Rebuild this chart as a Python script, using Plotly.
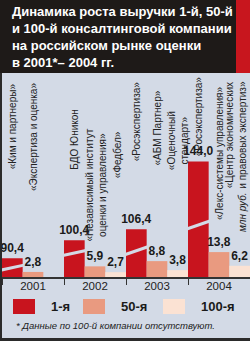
import plotly.graph_objects as go

# ---- data ----
years = [2001, 2002, 2003, 2004]
year_labels = ["2001", "2002", "2003", "2004"]
series_names = ["1-я", "50-я", "100-я"]
first_vals = [90.4, 100.4, 106.4, 144.0]
fiftieth_vals = [2.8, 5.9, 8.8, 13.8]
hundredth_vals = [None, 2.7, 3.8, 6.2]
first_names = ["«Ким и партнеры»", "БДО Юникон", "«Росэкспертиза»", "«Росэкспертиза»"]
fiftieth_names = ["«Экспертиза и оценка»", "«Независимый институт<br>оценки и управления»",
                  "«АБМ Партнер»", "«Лекс-системы управления»"]
hundredth_names = [None, "«Федбел»", "«Оценочный<br>стандарт»",
                   "«Центр экономических<br>и правовых экспертиз»"]
title_text = ("Динамика роста выручки 1-й, 50-й<br>и 100-й консалтинговой компании<br>"
              "на российском рынке оценки<br>в 2001*– 2004 гг.")
unit_text = "млн руб."
footnote = "* Данные по 100-й компании отсутствуют."

# ---- style ----
W, H = 250, 341
BG = "#d3dae6"
DARK = "#1e1a18"
RED = "#c8141e"
SALMON = "#e99a80"
PEACH = "#fbe2d3"
colors = [RED, SALMON, PEACH]
FONT = "Liberation Sans, Arial"

band_bottom = 73      # px from top
axis_y = 277          # px from top
left_px = 2
ydom = [(H - axis_y) / H, (H - band_bottom) / H]
xdom = [left_px / W, 1]
plot_h = axis_y - band_bottom

scale = 1.805         # px per unit
break_cut = 80.0      # hidden (broken-off) part of the 1-я bars

def py(px_from_top):
    return (H - px_from_top) / H

def fmt(v):
    return "" if v is None else f"{v:.1f}".replace(".", ",")

fig = go.Figure()
width = 1 / 3
offsets = [-0.5, -0.5 + width, -0.5 + 2 * width]
all_vals = [first_vals, fiftieth_vals, hundredth_vals]
for k, (name, vals) in enumerate(zip(series_names, all_vals)):
    fig.add_trace(go.Bar(
        x=years, y=vals, name=name,
        base=[-break_cut] * len(vals) if k == 0 else None,
        marker=dict(color=colors[k], line=dict(width=0)),
        width=width, offset=offsets[k],
        text=[fmt(v) for v in vals], texttemplate="%{text}", textposition="outside",
        constraintext="none", cliponaxis=True,
        textfont=dict(family=FONT, size=12, color="#1a1a1a", weight="bold"),
        hoverinfo="skip", showlegend=False,
    ))

shapes = [
    dict(type="rect", xref="paper", yref="paper", x0=0, x1=236 / W, y0=py(band_bottom), y1=1,
         fillcolor=DARK, line=dict(width=0), layer="below"),
    dict(type="rect", xref="paper", yref="paper", x0=236 / W, x1=1, y0=py(band_bottom), y1=1,
         fillcolor="#c8161e", line=dict(width=0), layer="below"),
    dict(type="rect", xref="paper", yref="paper", x0=0, x1=left_px / W, y0=0, y1=py(band_bottom),
         fillcolor="#2b2b2b", line=dict(width=0), layer="above"),
    dict(type="rect", xref="paper", yref="paper", x0=0, x1=1, y0=0, y1=3 / H,
         fillcolor="#2b2b2b", line=dict(width=0), layer="above"),
]
# break slashes across the truncated 1-я bars
slash_frac = [0.5, 0.65, 0.55, 0.45]
slash_rise = [2.5, 2.5, 4.0, 4.0]
for yr, v, fr, rise in zip(years, first_vals, slash_frac, slash_rise):
    mid_px = axis_y - (v - break_cut) * fr * scale
    shapes.append(dict(type="line", xref="x", yref="paper",
                       x0=yr - 0.5 - 0.02, x1=yr - 0.5 + width + 0.02,
                       y0=py(mid_px + rise), y1=py(mid_px - rise),
                       line=dict(color=BG, width=3), layer="above"))

annotations = [
    dict(text=title_text, xref="paper", yref="paper", x=10 / W, y=py(2),
         xanchor="left", yanchor="top", align="left", showarrow=False,
         font=dict(family=FONT, size=13, color="white", weight="bold")),
    dict(text=footnote, xref="paper", yref="paper", x=14 / W, y=py(325),
         xanchor="left", yanchor="middle", showarrow=False,
         font=dict(family=FONT, size=9.5, color="#222", style="italic")),
    dict(text=unit_text, xref="paper", yref="paper", x=242 / W, y=py(212),
         xanchor="center", yanchor="middle", textangle=-90, showarrow=False,
         font=dict(family=FONT, size=10, color="#222", style="italic")),
]

label_tops = [[82, 108, 80, 75], [82, 128, 90, 85], [None, 130, 110, 80]]
label_shift = [[0, 0, 0, 0], [0, 0, 0, 0], [0, 2, 0, -4]]
label_sets = [first_names, fiftieth_names, hundredth_names]
for k, names in enumerate(label_sets):
    for i, t in enumerate(names):
        if t is None:
            continue
        annotations.append(dict(
            text=t, xref="x", yref="paper", x=years[i] + offsets[k] + width / 2,
            xshift=label_shift[k][i],
            y=py(label_tops[k][i]), xanchor="center", yanchor="top",
            textangle=-90, showarrow=False, borderpad=0,
            font=dict(family=FONT, size=10, color="#222")))

# legend (swatches + labels)
legend_x = [13, 83, 163]
for k, name in enumerate(series_names):
    shapes.append(dict(type="rect", xref="paper", yref="paper",
                       x0=legend_x[k] / W, x1=(legend_x[k] + 22) / W,
                       y0=py(314), y1=py(299), fillcolor=colors[k],
                       line=dict(width=0), layer="above"))
    annotations.append(dict(text=name, xref="paper", yref="paper",
                            x=(legend_x[k] + 36) / W, y=py(306.5),
                            xanchor="left", yanchor="middle", showarrow=False,
                            font=dict(family=FONT, size=13, color="#1a1a1a", weight="bold")))

xr = [years[0] - 0.5, years[-1] + 0.5]
fig.update_layout(
    width=W, height=H, margin=dict(l=0, r=0, t=0, b=0),
    paper_bgcolor=BG, plot_bgcolor="rgba(0,0,0,0)",
    barmode="overlay",
    shapes=shapes, annotations=annotations,
    showlegend=False,
    xaxis=dict(domain=xdom, range=xr, anchor="y",
               showline=True, linecolor="#333", linewidth=1.5,
               tickmode="array", tickvals=years, ticktext=year_labels, ticks="",
               ticklabelstandoff=-3,
               minor=dict(ticks="outside", ticklen=6, tickcolor="#333", tickwidth=1,
                          tick0=years[0] - 0.5, dtick=1, showgrid=False),
               tickfont=dict(family=FONT, size=11.5, color="#222"),
               showgrid=False, zeroline=False, fixedrange=True),
    yaxis=dict(domain=ydom, range=[0, plot_h / scale], anchor="x", autorange=False,
               showticklabels=False, ticks="", showline=False, showgrid=False,
               zeroline=False, fixedrange=True),
)

fig.write_html("out.html")
